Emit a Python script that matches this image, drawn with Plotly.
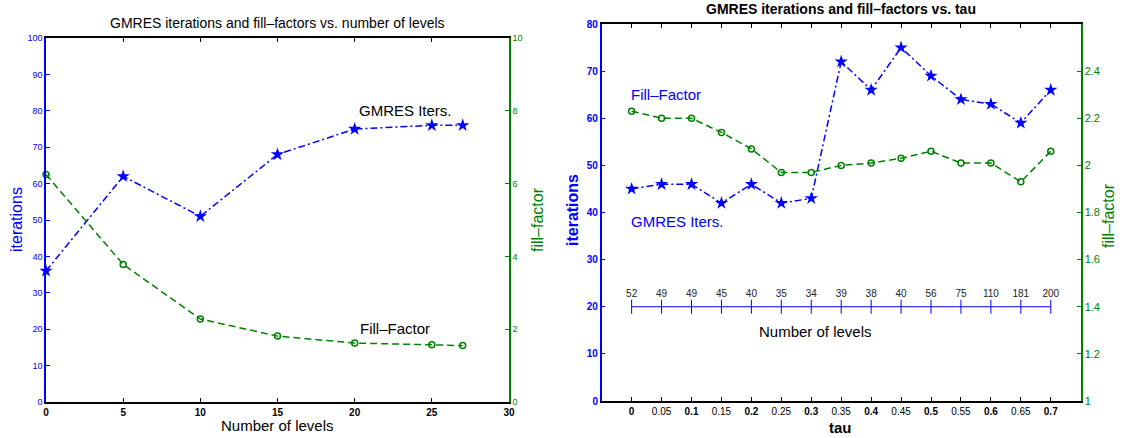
import plotly.graph_objects as go

# ---------- data ----------
levels = [0, 5, 10, 15, 20, 25, 27]
iters_levels = [36, 62, 51, 68, 75, 76, 76]
fill_levels = [6.25, 3.78, 2.28, 1.81, 1.62, 1.57, 1.55]

tau = [0, 0.05, 0.1, 0.15, 0.2, 0.25, 0.3, 0.35, 0.4, 0.45, 0.5, 0.55, 0.6, 0.65, 0.7]
iters_tau = [45, 46, 46, 42, 46, 42, 43, 72, 66, 75, 69, 64, 63, 59, 66]
fill_tau = [2.23, 2.20, 2.20, 2.14, 2.07, 1.97, 1.97, 2.00, 2.01, 2.03, 2.06, 2.01, 2.01, 1.93, 2.06]
nlevels_tau = [52, 49, 49, 45, 40, 35, 34, 39, 38, 40, 56, 75, 110, 181, 200]
levels_row_y = 20

tau_ticks = [0, 0.05, 0.1, 0.15, 0.2, 0.25, 0.3, 0.35, 0.4, 0.45, 0.5, 0.55, 0.6, 0.65, 0.7]
tau_ticktext = ["<b>0</b>", "0.05", "<b>0.1</b>", "0.15", "<b>0.2</b>", "0.25", "<b>0.3</b>",
                "0.35", "<b>0.4</b>", "0.45", "<b>0.5</b>", "0.55", "<b>0.6</b>", "0.65", "<b>0.7</b>"]

BLUE = "#0000ff"
GREEN = "#008000"
FONT = "Liberation Sans, Arial, sans-serif"
W, H = 1123, 438
DASHDOT = "7px,3px,2px,3px"
DASH = "7px,4px"

def px_x(p):
    return p / W

def px_y(p):
    return 1 - p / H

fig = go.Figure()

# ---------- left chart ----------
fig.add_trace(go.Scatter(x=levels, y=iters_levels, mode="lines+markers",
                         line=dict(color=BLUE, width=1.5, dash=DASHDOT),
                         marker=dict(symbol="star", size=10, color=BLUE),
                         xaxis="x", yaxis="y", showlegend=False, cliponaxis=False))
fig.add_trace(go.Scatter(x=levels, y=fill_levels, mode="lines+markers",
                         line=dict(color=GREEN, width=1.5, dash=DASH),
                         marker=dict(symbol="circle-open", size=6, color=GREEN, line=dict(width=1.5)),
                         xaxis="x", yaxis="y2", showlegend=False, cliponaxis=False))

# ---------- right chart ----------
fig.add_trace(go.Scatter(x=tau, y=iters_tau, mode="lines+markers",
                         line=dict(color=BLUE, width=1.5, dash=DASHDOT),
                         marker=dict(symbol="star", size=10, color=BLUE),
                         xaxis="x2", yaxis="y3", showlegend=False))
fig.add_trace(go.Scatter(x=tau, y=fill_tau, mode="lines+markers",
                         line=dict(color=GREEN, width=1.5, dash=DASH),
                         marker=dict(symbol="circle-open", size=6, color=GREEN, line=dict(width=1.5)),
                         xaxis="x2", yaxis="y4", showlegend=False))
fig.add_trace(go.Scatter(x=tau, y=[levels_row_y] * len(tau), mode="lines+markers+text",
                         line=dict(color=BLUE, width=1),
                         marker=dict(symbol="line-ns", size=10, color=BLUE, line=dict(width=1, color=BLUE)),
                         text=[str(v) for v in nlevels_tau], textposition="top center",
                         textfont=dict(size=10, color="#222222", family=FONT),
                         xaxis="x2", yaxis="y3", showlegend=False, cliponaxis=False))

common_axis = dict(showgrid=False, zeroline=False, ticks="inside", ticklen=4, showline=True,
                   automargin=False)

fig.update_layout(
    width=W, height=H, margin=dict(l=0, r=0, t=0, b=0, autoexpand=False),
    paper_bgcolor="white", plot_bgcolor="white",
    font=dict(family=FONT),
    xaxis=dict(domain=[px_x(46), px_x(509)], range=[0, 30], tickvals=[0, 5, 10, 15, 20, 25, 30],
               ticktext=["<b>%d</b>" % v for v in [0, 5, 10, 15, 20, 25, 30]],
               linecolor="black", linewidth=1.5, mirror="ticks", tickcolor="black",
               tickfont=dict(size=10, color="black"), anchor="y", **common_axis),
    yaxis=dict(domain=[px_y(402), px_y(38)], range=[0, 100], tickvals=list(range(0, 101, 10)),
               linecolor=BLUE, linewidth=1.5, tickcolor=BLUE, tickfont=dict(size=9, color=BLUE),
               anchor="x", **common_axis),
    yaxis2=dict(overlaying="y", side="right", anchor="x", range=[0, 10], tickvals=[0, 2, 4, 6, 8, 10],
                linecolor=GREEN, linewidth=1.5, tickcolor=GREEN, tickfont=dict(size=9, color=GREEN),
                **common_axis),
    xaxis2=dict(domain=[px_x(601.7), px_x(1080.7)], range=[-0.05, 0.75], tickvals=tau_ticks,
                ticktext=tau_ticktext, linecolor="black", linewidth=1.5, mirror="ticks",
                tickcolor="black", tickfont=dict(size=10, color="black"), anchor="y3", **common_axis),
    yaxis3=dict(domain=[px_y(401), px_y(24)], range=[0, 80], tickvals=list(range(0, 81, 10)),
                ticktext=["<b>%d</b>" % v for v in range(0, 81, 10)],
                linecolor=BLUE, linewidth=1.5, tickcolor=BLUE, tickfont=dict(size=10, color=BLUE),
                anchor="x2", **common_axis),
    yaxis4=dict(overlaying="y3", side="right", anchor="x2", range=[1, 2.6],
                tickvals=[1, 1.2, 1.4, 1.6, 1.8, 2, 2.2, 2.4],
                ticktext=["1", "1.2", "1.4", "1.6", "1.8", "2", "2.2", "2.4"],
                linecolor=GREEN, linewidth=1.5, tickcolor=GREEN, tickfont=dict(size=11, color=GREEN),
                **common_axis),
)

ann = []
def add_text(text, x, y, size, color="black", angle=0, xanchor="center", yanchor="middle"):
    ann.append(dict(text=text, x=px_x(x), y=px_y(y), xref="paper", yref="paper", showarrow=False,
                    font=dict(size=size, color=color, family=FONT), textangle=angle,
                    xanchor=xanchor, yanchor=yanchor))

# titles and axis labels (left)
add_text("GMRES iterations and fill–factors vs. number of levels", 277, 23, 14)
add_text("iterations", 16, 220, 16, BLUE, -90)
add_text("fill–factor", 537, 220, 16, GREEN, -90)
add_text("Number of levels", 277, 425, 15)
# titles and axis labels (right)
add_text("<b>GMRES iterations and fill–factors vs. tau</b>", 841, 9, 14)
add_text("<b>iterations</b>", 573, 210, 16, BLUE, -90)
add_text("fill–factor", 1108, 216, 16, GREEN, -90)
add_text("<b>tau</b>", 840, 427, 15)

fig.update_layout(annotations=ann)

# in-plot labels (data coordinates)
fig.add_annotation(text="GMRES Iters.", x=23.3, y=80.2, xref="x", yref="y", showarrow=False,
                   font=dict(size=15, color="black", family=FONT))
fig.add_annotation(text="Fill–Factor", x=22.6, y=20.3, xref="x", yref="y", showarrow=False,
                   font=dict(size=15, color="black", family=FONT))
fig.add_annotation(text="Fill–Factor", x=-0.004, y=65, xref="x2", yref="y3", showarrow=False,
                   font=dict(size=15, color=BLUE, family=FONT), xanchor="left")
fig.add_annotation(text="GMRES Iters.", x=-0.004, y=38, xref="x2", yref="y3", showarrow=False,
                   font=dict(size=15, color=BLUE, family=FONT), xanchor="left")
fig.add_annotation(text="Number of levels", x=0.307, y=14.7, xref="x2", yref="y3", showarrow=False,
                   font=dict(size=15, color="black", family=FONT))

fig.write_html("out.html", config={"displayModeBar": False},
               post_script="document.body.style.margin='0';document.body.style.padding='0';")
